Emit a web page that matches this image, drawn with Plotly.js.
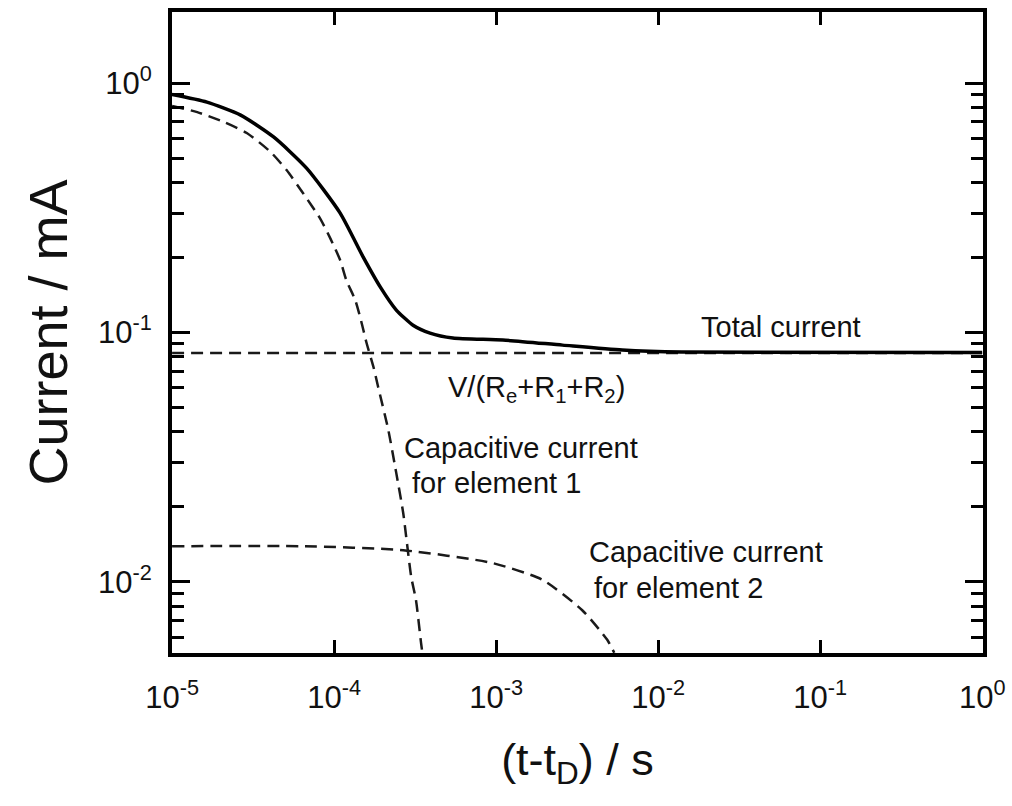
<!DOCTYPE html>
<html>
<head>
<meta charset="utf-8">
<script src="https://cdn.plot.ly/plotly-3.0.1.min.js"></script>
<style>html,body{margin:0;padding:0;background:#fff;}#chart{width:1012px;height:806px;}</style>
</head>
<body>
<div id="chart"></div>
<script>
// Total current (solid)
var tTotal = [1.0e-5, 1.64e-5, 2.65e-5, 4.23e-5, 6.76e-5, 1.09e-4, 1.51e-4, 1.93e-4, 2.42e-4, 3.07e-4, 3.91e-4, 5.41e-4, 1.1e-3, 2.57e-3, 6.0e-3, 1.4e-2, 1];
var iTotal = [0.9, 0.839, 0.744, 0.608, 0.456, 0.301, 0.201, 0.152, 0.123, 0.107, 0.0995, 0.0951, 0.0933, 0.089, 0.0851, 0.0835, 0.0832];
// Capacitive current for element 1 (dashed)
var tCap1 = [1.0e-5, 1.43e-5, 2.09e-5, 2.89e-5, 4.06e-5, 5.09e-5, 6.47e-5, 8.24e-5, 9.49e-5, 1.09e-4, 1.19e-4, 1.35e-4, 1.47e-4, 1.58e-4, 1.75e-4, 1.87e-4, 2.16e-4, 2.42e-4, 2.67e-4, 2.99e-4, 3.2e-4, 3.44e-4, 3.52e-4];
var iCap1 = [0.81, 0.765, 0.698, 0.631, 0.529, 0.448, 0.36, 0.285, 0.238, 0.195, 0.162, 0.135, 0.111, 0.0916, 0.0727, 0.0605, 0.0407, 0.0273, 0.0189, 0.0105, 0.00847, 0.0057, 0.0051];
// V/(Re+R1+R2) (dashed, constant)
var tOhm = [1e-5, 1];
var iOhm = [0.0828, 0.0828];
// Capacitive current for element 2 (dashed)
var tCap2 = [1e-5, 6.5e-5, 2.67e-4, 9.5e-4, 1.93e-3, 3.4e-3, 4.85e-3, 5.36e-3];
var iCap2 = [0.0139, 0.0139, 0.0134, 0.0119, 0.0102, 0.0077, 0.00586, 0.0052];

var xTickVals = [1e-5, 1e-4, 1e-3, 1e-2, 1e-1, 1];
var xTickText = ["10<sup>-5</sup>", "10<sup>-4</sup>", "10<sup>-3</sup>", "10<sup>-2</sup>", "10<sup>-1</sup>", "10<sup>0</sup>"];
var yTickVals = [1e-2, 1e-1, 1];
var yTickText = ["10<sup>-2</sup>", "10<sup>-1</sup>", "10<sup>0</sup>"];

var yMinor = [];
[1e-3, 1e-2, 1e-1, 1].forEach(function (d) {
  for (var k = 2; k <= 9; k++) yMinor.push(k * d);
});

var font = "Arial, 'Liberation Sans', sans-serif";
var ink = "#111";

var traces = [
  {x: tOhm, y: iOhm, mode: "lines", line: {color: "#1a1a1a", width: 2.5, dash: "12px,7px"}, hoverinfo: "skip"},
  {x: tCap2, y: iCap2, mode: "lines", line: {color: "#1a1a1a", width: 2.5, dash: "12px,7px", shape: "spline", smoothing: 0.6}, hoverinfo: "skip"},
  {x: tCap1, y: iCap1, mode: "lines", line: {color: "#1a1a1a", width: 2.5, dash: "12px,7px", shape: "spline", smoothing: 0.6}, hoverinfo: "skip"},
  {x: tTotal, y: iTotal, mode: "lines", line: {color: "#000", width: 3.5, shape: "spline", smoothing: 0.6}, hoverinfo: "skip"}
];

function px(x) { return (x - 172) / 811; }
function py(y) { return (653 - y) / 641; }

var annFont = {family: font, size: 29, color: ink};
var annotations = [
  {text: "Total current", x: px(781), y: py(327), xanchor: "center", yanchor: "middle"},
  {text: "V/(R<sub>e</sub>+R<sub>1</sub>+R<sub>2</sub>)", x: px(536), y: py(389), xanchor: "center", yanchor: "middle"},
  {text: "Capacitive current", x: px(402), y: py(448), xanchor: "left", yanchor: "middle"},
  {text: "for element 1", x: px(410), y: py(483), xanchor: "left", yanchor: "middle"},
  {text: "Capacitive current", x: px(587), y: py(552), xanchor: "left", yanchor: "middle"},
  {text: "for element 2", x: px(592), y: py(588), xanchor: "left", yanchor: "middle"}
].map(function (a) {
  a.xref = "paper"; a.yref = "paper"; a.showarrow = false; a.font = annFont;
  return a;
});

var layout = {
  width: 1012,
  height: 806,
  paper_bgcolor: "#fff",
  plot_bgcolor: "#fff",
  showlegend: false,
  margin: {l: 172, r: 29, t: 12, b: 153},
  font: {family: font, color: ink},
  xaxis: {
    type: "log",
    range: [-5.0005, 0.005],
    tickmode: "array",
    tickvals: xTickVals,
    ticktext: xTickText,
    ticks: "inside",
    ticklen: 13,
    tickwidth: 3,
    tickcolor: "#000",
    ticklabelstandoff: 14,
    showline: true,
    linecolor: "#000",
    linewidth: 4,
    mirror: "ticks",
    showgrid: false,
    zeroline: false,
    tickfont: {family: font, size: 31, color: ink},
    title: {text: "(t-t<sub>D</sub>) / s", font: {family: font, size: 45, color: ink}, standoff: 30}
  },
  yaxis: {
    type: "log",
    range: [-2.285, 0.285],
    tickmode: "array",
    tickvals: yTickVals,
    ticktext: yTickText,
    ticks: "inside",
    ticklen: 18,
    tickwidth: 3,
    tickcolor: "#000",
    ticklabelstandoff: 10,
    minor: {tickmode: "array", tickvals: yMinor, ticks: "inside", ticklen: 12, tickwidth: 3, tickcolor: "#000", showgrid: false},
    showline: true,
    linecolor: "#000",
    linewidth: 4,
    mirror: "ticks",
    showgrid: false,
    zeroline: false,
    tickfont: {family: font, size: 31, color: ink},
    title: {text: "Current / mA", font: {family: font, size: 54, color: ink}, standoff: 14}
  },
  annotations: annotations
};

Plotly.newPlot("chart", traces, layout, {staticPlot: true, displayModeBar: false});
</script>
</body>
</html>
